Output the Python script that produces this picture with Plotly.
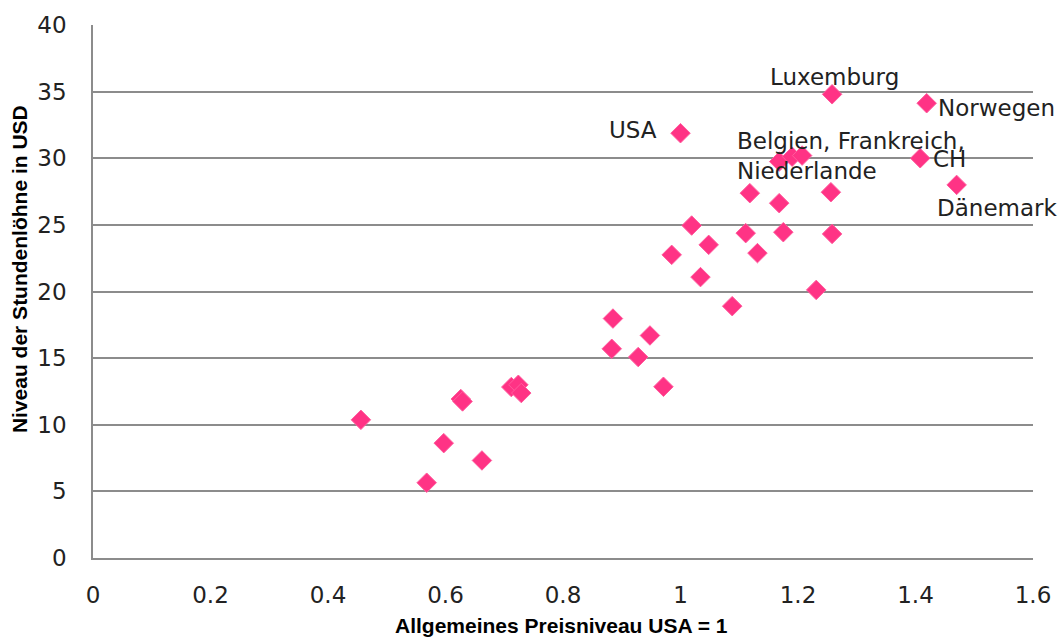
import plotly.graph_objects as go

# General price level (USA = 1) and hourly wage level in USD per country
price_level = [
    0.456, 0.568, 0.597, 0.626, 0.629, 0.662, 0.712, 0.724, 0.729,
    0.885, 0.883, 0.928, 0.948, 0.971, 0.985, 1.000, 1.019, 1.034,
    1.048, 1.088, 1.111, 1.118, 1.131, 1.168, 1.175, 1.168, 1.190,
    1.207, 1.231, 1.256, 1.258, 1.258, 1.408, 1.419, 1.470,
]
hourly_wage = [
    10.37, 5.65, 8.62, 11.93, 11.75, 7.32, 12.83, 13.00, 12.38,
    17.97, 15.70, 15.08, 16.70, 12.85, 22.75, 31.88, 24.95, 21.08,
    23.50, 18.90, 24.38, 27.38, 22.88, 26.63, 24.45, 29.75, 30.12,
    30.20, 20.12, 27.45, 24.32, 34.80, 30.00, 34.13, 28.00,
]
# Point labels (empty string = unlabelled)
country_label = [""] * len(price_level)
country_label[15] = "USA"
country_label[27] = "Belgien, Frankreich,<br>Niederlande"
country_label[31] = "Luxemburg"
country_label[32] = "CH"
country_label[33] = "Norwegen"
country_label[34] = "Dänemark"

x_ticks = [0, 0.2, 0.4, 0.6, 0.8, 1, 1.2, 1.4, 1.6]
y_ticks = [0, 5, 10, 15, 20, 25, 30, 35, 40]

# Placement of each label relative to its point (pixels)
label_style = {
    "USA": dict(xanchor="right", xshift=-22, yshift=3, align="right"),
    "Belgien, Frankreich,<br>Niederlande": dict(xanchor="left", xshift=-67, yshift=0, align="left"),
    "Luxemburg": dict(xanchor="center", xshift=2, yshift=17, align="center"),
    "CH": dict(xanchor="left", xshift=11, yshift=-1, align="left"),
    "Norwegen": dict(xanchor="left", xshift=9, yshift=-5, align="left"),
    "Dänemark": dict(xanchor="center", xshift=40, yshift=-23, align="center"),
}

LABEL_FONT = dict(family="DejaVu Sans", size=23, color="#222222")
TITLE_FONT = dict(family="Liberation Sans, Arial", size=21, color="#000000", weight="bold")
GRID = "#8c8c8c"

fig = go.Figure()
fig.add_trace(go.Scatter(
    x=price_level,
    y=hourly_wage,
    mode="markers",
    marker=dict(symbol="diamond", size=15, color="#FF3385",
                line=dict(color="#FF5C9D", width=1)),
    hoverinfo="x+y",
    showlegend=False,
))

annotations = []
for xv, yv, txt in zip(price_level, hourly_wage, country_label):
    if not txt:
        continue
    annotations.append(dict(
        x=xv, y=yv, xref="x", yref="y", text=txt, showarrow=False,
        yanchor="middle", font=LABEL_FONT, **label_style[txt],
    ))

# Axis titles
annotations.append(dict(
    text="Allgemeines Preisniveau USA = 1", xref="paper", yref="paper",
    x=0.498, y=-0.127, xanchor="center", yanchor="middle",
    showarrow=False, font=TITLE_FONT,
))
annotations.append(dict(
    text="Niveau der Stundenlöhne in USD", xref="paper", yref="paper",
    x=-0.0774, y=0.5425, xanchor="center", yanchor="middle", textangle=-90,
    showarrow=False, font=TITLE_FONT,
))

fig.update_layout(
    width=1063, height=639,
    margin=dict(l=93, r=27, t=25, b=81, pad=0),
    paper_bgcolor="white", plot_bgcolor="white",
    annotations=annotations,
    xaxis=dict(
        range=[0, 1.6], tickvals=x_ticks,
        ticktext=[f"{v:g}" for v in x_ticks],
        showgrid=False, zeroline=False,
        showline=True, linecolor=GRID, linewidth=1.5,
        ticks="", ticklabelstandoff=16,
        tickfont=LABEL_FONT,
    ),
    yaxis=dict(
        range=[0, 40], tickvals=y_ticks,
        showgrid=True, gridcolor=GRID, gridwidth=1.5,
        zeroline=False,
        showline=True, linecolor=GRID, linewidth=1.5,
        ticks="", ticklabelstandoff=20,
        tickfont=LABEL_FONT,
    ),
)

fig.write_html("out.html")
